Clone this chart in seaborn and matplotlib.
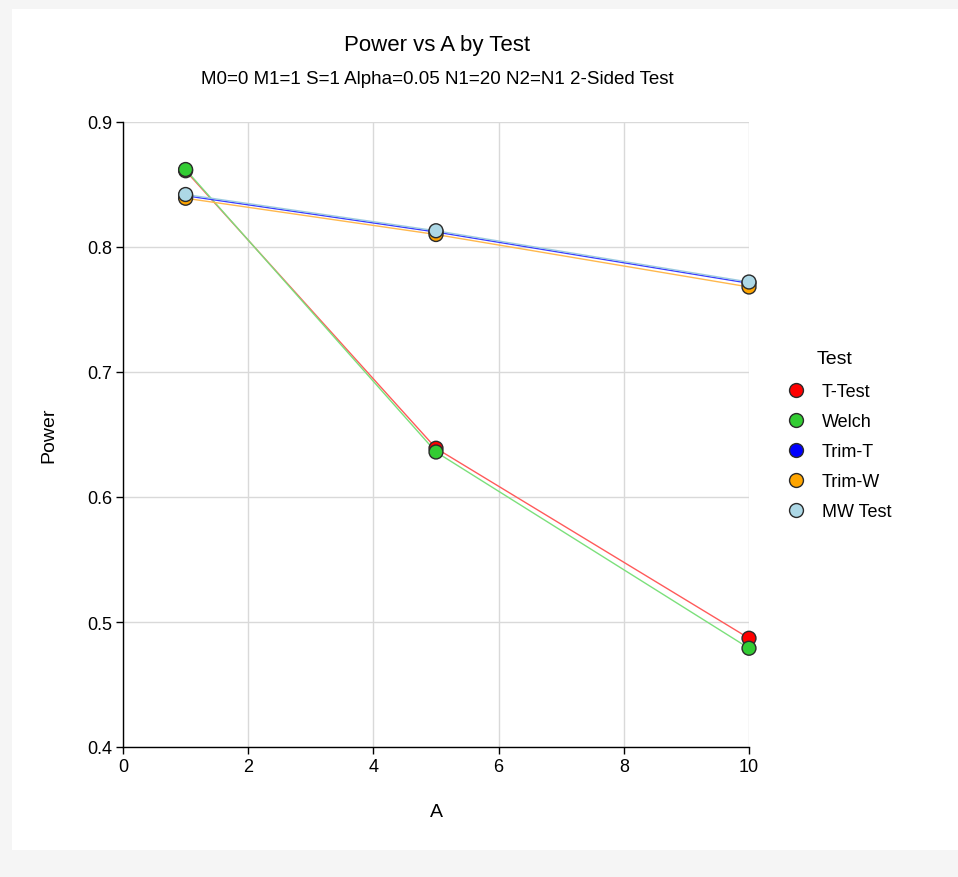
import numpy as np
import pandas as pd
import matplotlib
matplotlib.use("Agg")
import matplotlib.pyplot as plt
import seaborn as sns

# Power values by test across A
a_values = [1, 5, 10]
tests = ["T-Test", "Welch", "Trim-T", "Trim-W", "MW Test"]
power_ttest = [0.861, 0.639, 0.487]
power_welch = [0.862, 0.636, 0.479]
power_trimt = [0.841, 0.812, 0.771]
power_trimw = [0.839, 0.810, 0.768]
power_mw = [0.842, 0.813, 0.772]

x_ticks = [0, 2, 4, 6, 8, 10]
y_ticks = [0.4, 0.5, 0.6, 0.7, 0.8, 0.9]

marker_colors = ["#ff0000", "#33cc33", "#0000ff", "#ffa500", "#add8e6"]
line_colors = ["#ff5a5a", "#7be07b", "#3b3bff", "#ffb84d", "#9ccbe0"]

df = pd.DataFrame({
    "A": a_values * len(tests),
    "Power": power_ttest + power_welch + power_trimt + power_trimw + power_mw,
    "Test": [t for t in tests for _ in a_values],
})

sns.set_theme(style="white")
plt.rcParams["font.family"] = ["Liberation Sans", "DejaVu Sans"]
plt.rcParams["text.color"] = "black"
plt.rcParams["axes.labelcolor"] = "black"

fig = plt.figure(figsize=(9.58, 8.78), dpi=100)
fig.patch.set_facecolor("#f5f5f5")
panel = plt.Rectangle((12 / 958, 1 - 851 / 878), 1 - 12 / 958, (851 - 10) / 878,
                      transform=fig.transFigure, facecolor="white",
                      edgecolor="none", zorder=-10)
fig.patches.append(panel)

ax = fig.add_axes([123 / 958, 1 - 748 / 878, (749 - 123) / 958, (748 - 123) / 878])
ax.set_facecolor("white")

sns.lineplot(data=df, x="A", y="Power", hue="Test", hue_order=tests,
             palette=line_colors, linewidth=1.0, legend=False, ax=ax,
             zorder=2, sort=False)
sns.scatterplot(data=df, x="A", y="Power", hue="Test", hue_order=tests,
                palette=marker_colors, s=100, edgecolor="#2b2b2b",
                linewidth=1.0, ax=ax, zorder=3)
for coll in ax.collections:
    coll.set_clip_on(False)

ax.set_xlim(0, 10)
ax.set_ylim(0.4, 0.9)
ax.set_xticks(x_ticks)
ax.set_yticks(y_ticks)
ax.set_xticklabels([str(v) for v in x_ticks])
ax.set_yticklabels([f"{v:.1f}" for v in y_ticks])
ax.grid(True, color="#d9d9d9", linewidth=1.0)
ax.set_axisbelow(True)
for side in ["top", "right"]:
    ax.spines[side].set_visible(False)
for side in ["left", "bottom"]:
    ax.spines[side].set_color("black")
    ax.spines[side].set_linewidth(1.0)
ax.tick_params(axis="both", direction="out", length=5, width=1,
               color="black", labelsize=13, labelcolor="black", pad=3,
               left=True, bottom=True)

ax.set_xlabel("A", fontsize=14, labelpad=20)
ax.set_ylabel("Power", fontsize=14, labelpad=21)

fig.text(437 / 958, 1 - 46 / 878, "Power vs A by Test", ha="center",
         va="center", fontsize=16)
fig.text(437 / 958, 1 - 80 / 878,
         "M0=0 M1=1 S=1 Alpha=0.05 N1=20 N2=N1 2-Sided Test",
         ha="center", va="center", fontsize=13.5)

leg = ax.legend(title="Test", loc="upper left",
                bbox_to_anchor=(762 / 958, 1 - 335 / 878),
                bbox_transform=fig.transFigure, frameon=False,
                fontsize=13, title_fontsize=14, labelspacing=0.72,
                handletextpad=0.4, markerscale=1.0)
leg._legend_box.sep = 11.5
for h in leg.legend_handles:
    h.set_markeredgecolor("#2b2b2b")

fig.savefig("out.png", dpi=100, facecolor=fig.get_facecolor())
